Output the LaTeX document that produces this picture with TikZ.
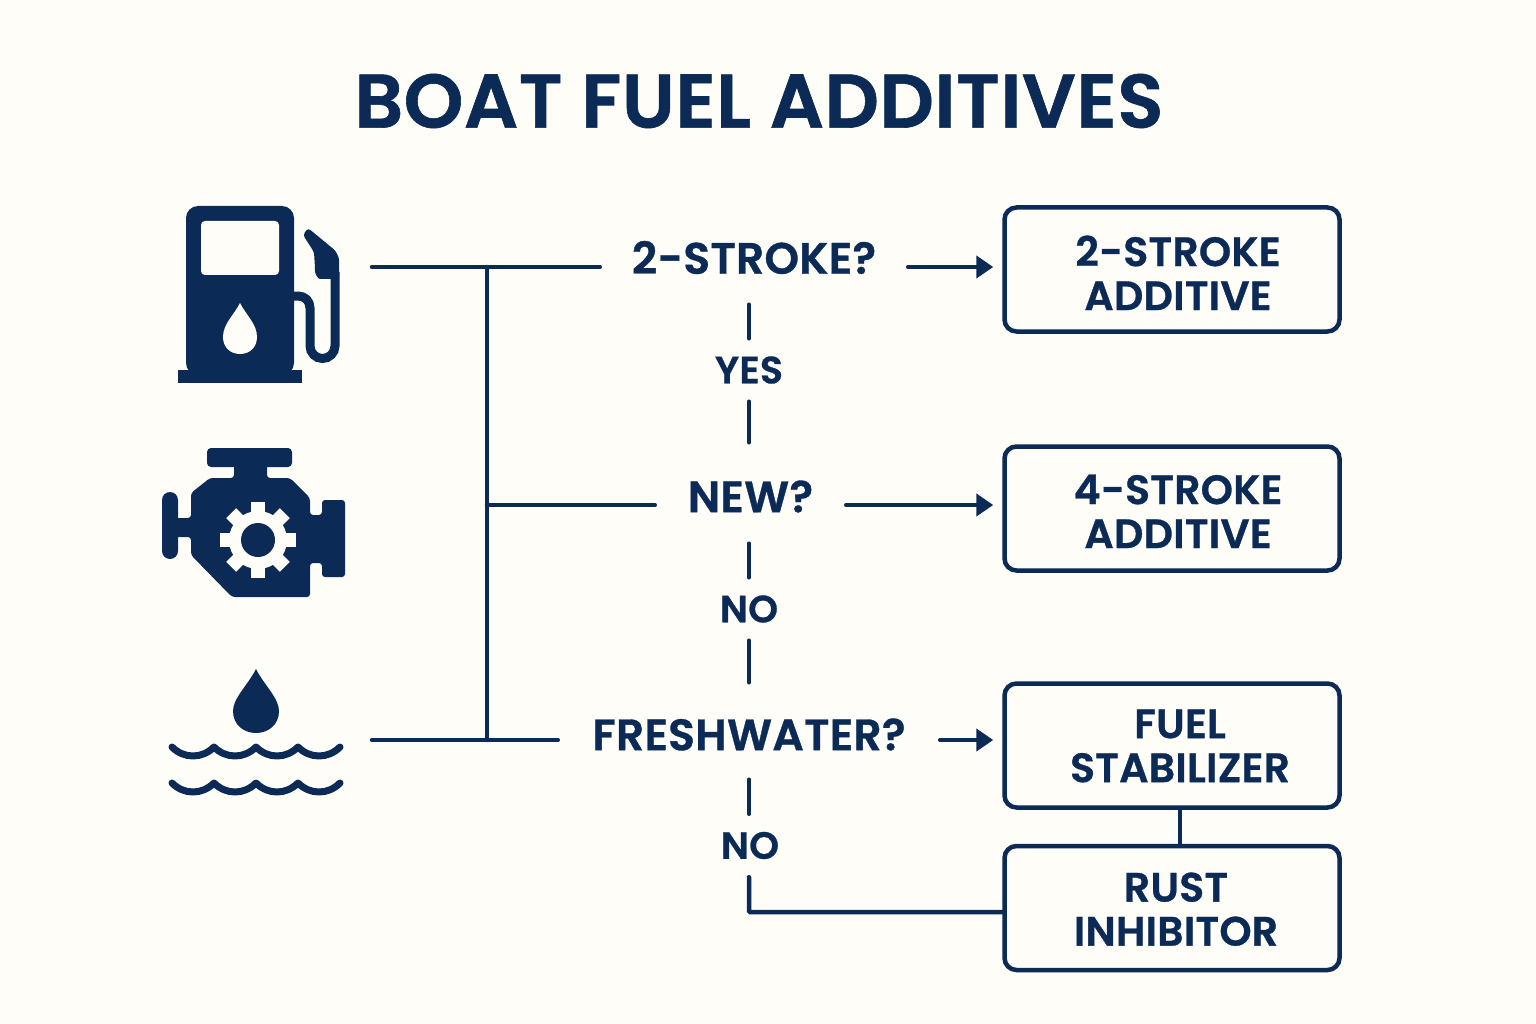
\documentclass[tikz,border=0pt]{standalone}
\usepackage{fontspec}
\setmainfont{Poppins}[BoldFont={Poppins SemiBold},BoldFeatures={FakeBold=0.8,LetterSpace=0.6}]
\usepackage{tikz}
\usetikzlibrary{arrows.meta,positioning}
\definecolor{navy}{HTML}{0B2A55}
\definecolor{paper}{HTML}{FFFDF8}
\newcommand{\boxtext}[4]{\hspace*{#1pt}\raisebox{#2pt}[0pt][0pt]{\begin{tabular}{@{}c@{}}#3\\#4\end{tabular}}}
\tikzset{
  every picture/.style = {
    x = 1pt,
    y = -1pt,
  }
  ,
  link/.style = {
    draw = navy,
    line width = 4.5pt,
    line cap = round
  }
  , % lines with a head
  link-to/.style = {
    link,
    -{Triangle[length=17pt,width=22pt]},
    shorten > = 9pt
  }
  ,
  outcome/.style = {
    rectangle,
    rounded corners = 12pt,
    draw = navy,
    line width = 4.5pt,
    text = navy,
    font = \fontsize{41}{44}\selectfont\bfseries,
    minimum width = 335pt,
    minimum height = 124pt,
    inner sep = 0pt
  }
  , % the questions in the middle
  question/.style = {
    text = navy,
    font = \fontsize{44}{46}\selectfont\bfseries,
    minimum height = 94pt,
    inner sep = 0pt
  }
  , % labels on the dropped lines
  answer/.style = {
    text = navy,
    font = \fontsize{38}{40}\selectfont\bfseries,
    minimum height = 63pt,
    inner sep = 0pt
  }
}
\begin{document}
\begin{tikzpicture}
  \useasboundingbox (0,0) rectangle (1536,1024);
  \fill[paper] (0,0) rectangle (1536,1024);

  \node at (759,101) [text=navy, font=\fontsize{76}{80}\selectfont\bfseries] (title) {BOAT FUEL ADDITIVES};

  % pump
  \fill[navy, rounded corners=12pt] (186,375) -- (186,206) -- (294,206) -- (294,375) -- cycle;
  \fill[navy] (178,370) rectangle (302,383);
  \fill[paper, rounded corners=4pt] (201,221) rectangle (279,275);
  \fill[paper] (240,303) .. controls (246,315) and (257,324) .. (257,337) .. controls (257,348) and (249,354) .. (240,354) .. controls (231,354) and (223,348) .. (223,337) .. controls (223,324) and (234,315) .. (240,303) -- cycle;
  \draw[navy, line width=9pt] (292,296) -- (298,296) .. controls (305,296) and (310,301) .. (310,308) -- (310,346) arc [start angle=180, end angle=360, x radius=12.5, y radius=-12.5] -- (335,272);
  \fill[navy, rounded corners=3pt] (303,235) -- (308,228) -- (331,247) .. controls (336,251) and (339,257) .. (339,263) -- (339,279) -- (323,279) .. controls (318,279) and (315,274) .. (315,268) -- (314,252) -- cycle;

  % engine
  \fill[navy, rounded corners=4pt] (207,448) rectangle (292,467);
  \fill[navy, rounded corners=8pt] (162,492) rectangle (178,559);
  \fill[navy, rounded corners=3pt] (234,460) -- (267,460) -- (267,478) -- (290,478) -- (310,498) -- (310,515) -- (322,515) -- (322,500) -- (345,500) -- (345,577) -- (322,577) -- (322,563) -- (310,563) -- (310,597) -- (232,597) -- (191,555) -- (191,537) -- (172,537) -- (172,518) -- (191,518) -- (191,493) -- (210,478) -- (234,478) -- cycle;
  \fill[paper] (258,540) circle [radius=29];
  \foreach \a in {0,45,...,315}
    \fill[paper, rotate around={\a:(258,540)}] (251,502) rectangle (265,520);
  \fill[navy] (258,540) circle [radius=17];

  % water
  \fill[navy] (256,669) .. controls (264,685) and (279,698) .. (279,711) .. controls (279,725) and (268,733) .. (256,733) .. controls (244,733) and (233,725) .. (233,711) .. controls (233,698) and (248,685) .. (256,669) -- cycle;
  \foreach \y in {747,783}
    \draw[navy, line width=7pt, line cap=round, line join=round] (172,\y) .. controls (184,\y+12) and (202,\y+12) .. (214,\y) .. controls (226,\y+12) and (244,\y+12) .. (256,\y) .. controls (268,\y+12) and (286,\y+12) .. (298,\y) .. controls (310,\y+12) and (328,\y+12) .. (340,\y);

  \coordinate (pumpout) at (372,267);
  \coordinate (waterout) at (372,740);
  \coordinate (trunktop) at (487,267);
  \coordinate (trunkmid) at (487,505);
  \coordinate (trunkend) at (487,740);

  \node at (754,257.5) [question, minimum width=308pt] (twostroke) {2-STROKE?};
  \node at (750.5,496.5) [question, minimum width=191pt] (new) {NEW?};
  \node at (749,734.5) [question, minimum width=382pt] (fresh) {FRESHWATER?};

  \node at (749,370) [answer] (yes) {YES};
  \node at (749,609) [answer] (nonew) {NO};
  \node at (750,845.5) [answer] (nofresh) {NO};

  \node at (1172,269.5) [outcome] (twoadd) {\boxtext{12}{-16}{2-STROKE}{ADDITIVE}};
  \node at (1172,508.5) [outcome] (fouradd) {\boxtext{12}{-15}{4-STROKE}{ADDITIVE}};
  \node at (1172,745.5) [outcome] (stabil) {\boxtext{16}{-12}{FUEL}{STABILIZER}};
  \node at (1172,908) [outcome] (rust) {\boxtext{8}{-13}{RUST}{INHIBITOR}};

  \draw[link] (pumpout) -- (pumpout -| twostroke.west);
  \draw[link] (waterout) -- (waterout -| fresh.west);
  \draw[link] (trunktop) -- (trunkend);
  \draw[link] (trunkmid) -- (trunkmid -| new.west);

  \draw[link-to] (pumpout -| twostroke.east) -- (pumpout -| twoadd.west);
  \draw[link-to] (trunkmid -| new.east) -- (trunkmid -| fouradd.west);
  \draw[link-to] (waterout -| fresh.east) -- (waterout -| stabil.west);

  \draw[link] (twostroke.south -| yes) -- (yes.north);
  \draw[link, shorten >=7pt] (yes.south) -- (yes |- new.north);
  \draw[link] (nonew |- new.south) -- (nonew.north);
  \draw[link, shorten >=5pt] (nonew.south) -- (nonew |- fresh.north);
  \draw[link, shorten <=-2pt] (fresh.south -| 749,0) -- (749,0 |- nofresh.north);
  \draw[link, rounded corners=1pt] (749,0 |- nofresh.south) |- ([yshift=-4pt]rust.west);
  \draw[link] ([xshift=8pt]stabil.south) -- ([xshift=8pt]rust.north);
\end{tikzpicture}
\end{document}
